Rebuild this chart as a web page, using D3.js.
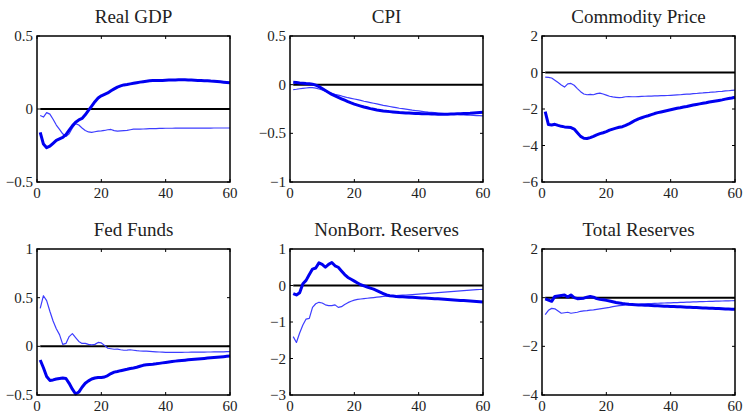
<!DOCTYPE html>
<html>
<head>
<meta charset="utf-8">
<script src="https://cdn.jsdelivr.net/npm/d3@7"></script>
<style>
  body { margin: 0; background: #fff; }
  text { font-family: "Liberation Serif", "Times New Roman", serif; fill: #222; }
</style>
</head>
<body>
<div id="chart"></div>
<script>
var w = 743;
var h = 414;

var titles = ["Real GDP", "CPI", "Commodity Price", "Fed Funds", "NonBorr. Reserves", "Total Reserves"];
var yDomains = [[-0.5, 0.5], [-1, 0.5], [-6, 2], [-0.5, 1], [-3, 1], [-4, 2]];
var yTicks = [[-0.5, 0, 0.5], [-1, -0.5, 0, 0.5], [-6, -4, -2, 0, 2], [-0.5, 0, 0.5, 1], [-3, -2, -1, 0, 1], [-4, -2, 0, 2]];
var xTicks = [0, 20, 40, 60];

// horizon 1..60
var gdpThick = [-0.16, -0.24, -0.265, -0.255, -0.235, -0.215, -0.205, -0.195, -0.175, -0.145,
  -0.115, -0.09, -0.075, -0.065, -0.04, -0.01, 0.02, 0.05, 0.075, 0.09,
  0.1, 0.11, 0.125, 0.138, 0.15, 0.158, 0.165, 0.168, 0.172, 0.176,
  0.18, 0.184, 0.187, 0.19, 0.193, 0.195, 0.196, 0.196, 0.196, 0.197,
  0.198, 0.198, 0.199, 0.2, 0.2, 0.2, 0.199, 0.198, 0.197, 0.196,
  0.195, 0.194, 0.193, 0.191, 0.19, 0.188, 0.186, 0.184, 0.182, 0.18];
var gdpThin = [-0.045, -0.055, -0.025, -0.035, -0.07, -0.11, -0.14, -0.17, -0.188, -0.17,
  -0.13, -0.1, -0.11, -0.13, -0.147, -0.157, -0.16, -0.156, -0.152, -0.15,
  -0.147, -0.142, -0.14, -0.148, -0.152, -0.15, -0.148, -0.146, -0.142, -0.138,
  -0.137, -0.138, -0.137, -0.136, -0.135, -0.134, -0.134, -0.133, -0.133, -0.132,
  -0.132, -0.132, -0.131, -0.131, -0.131, -0.131, -0.131, -0.131, -0.131, -0.131,
  -0.131, -0.131, -0.131, -0.131, -0.13, -0.13, -0.13, -0.13, -0.13, -0.13];

var cpiThick = [0.025, 0.022, 0.018, 0.015, 0.012, 0.01, 0.005, -0.005, -0.02, -0.04,
  -0.06, -0.08, -0.1, -0.115, -0.13, -0.145, -0.16, -0.175, -0.188, -0.2,
  -0.21, -0.22, -0.23, -0.238, -0.246, -0.253, -0.26, -0.265, -0.27, -0.274,
  -0.277, -0.28, -0.283, -0.286, -0.288, -0.29, -0.292, -0.294, -0.296, -0.297,
  -0.298, -0.299, -0.3, -0.301, -0.302, -0.303, -0.303, -0.303, -0.303, -0.302,
  -0.301, -0.3, -0.299, -0.297, -0.295, -0.293, -0.29, -0.288, -0.286, -0.284];
var cpiThin = [-0.05, -0.047, -0.042, -0.038, -0.034, -0.03, -0.03, -0.035, -0.045, -0.055,
  -0.068, -0.08, -0.09, -0.1, -0.108, -0.116, -0.125, -0.134, -0.14, -0.147,
  -0.154, -0.162, -0.17, -0.177, -0.184, -0.191, -0.198, -0.205, -0.212, -0.218,
  -0.224, -0.23, -0.236, -0.242, -0.247, -0.252, -0.257, -0.262, -0.266, -0.27,
  -0.274, -0.278, -0.282, -0.285, -0.288, -0.291, -0.294, -0.297, -0.3, -0.302,
  -0.304, -0.306, -0.308, -0.31, -0.312, -0.314, -0.316, -0.318, -0.319, -0.32];

var comThick = [-2.15, -2.85, -2.88, -2.84, -2.9, -2.95, -2.98, -3.0, -3.02, -3.1,
  -3.3, -3.5, -3.6, -3.62, -3.57, -3.5, -3.42, -3.35, -3.3, -3.24,
  -3.16, -3.1, -3.05, -3.0, -2.97, -2.9, -2.82, -2.72, -2.62, -2.54,
  -2.48, -2.42, -2.37, -2.31, -2.25, -2.2, -2.16, -2.12, -2.08, -2.04,
  -2.0, -1.96, -1.93, -1.89, -1.86, -1.82, -1.78, -1.75, -1.72, -1.69,
  -1.66, -1.62, -1.59, -1.56, -1.53, -1.5, -1.46, -1.43, -1.4, -1.36];
var comThin = [-0.25, -0.27, -0.3, -0.42, -0.55, -0.68, -0.8, -0.62, -0.6, -0.7,
  -0.88, -1.05, -1.18, -1.22, -1.2, -1.22, -1.16, -1.13, -1.18, -1.24,
  -1.3, -1.34, -1.36, -1.38, -1.36, -1.33, -1.32, -1.33, -1.33, -1.32,
  -1.31, -1.3, -1.29, -1.29, -1.28, -1.28, -1.27, -1.27, -1.26, -1.25,
  -1.24, -1.23, -1.22, -1.2, -1.19, -1.18, -1.16, -1.15, -1.13, -1.12,
  -1.1, -1.09, -1.07, -1.06, -1.04, -1.03, -1.01, -1.0, -0.98, -0.97];

var ffThick = [-0.14, -0.22, -0.31, -0.35, -0.345, -0.335, -0.33, -0.325, -0.33, -0.38,
  -0.44, -0.49, -0.47, -0.42, -0.38, -0.355, -0.335, -0.325, -0.32, -0.32,
  -0.315, -0.3, -0.28, -0.265, -0.258, -0.25, -0.243, -0.236, -0.228, -0.222,
  -0.215, -0.205, -0.195, -0.19, -0.187, -0.184, -0.18, -0.175, -0.17, -0.165,
  -0.16, -0.156, -0.152, -0.148, -0.145, -0.142, -0.139, -0.136, -0.133, -0.13,
  -0.127, -0.124, -0.121, -0.118, -0.115, -0.112, -0.109, -0.106, -0.103, -0.1];
var ffThin = [0.39, 0.52, 0.47, 0.36, 0.26, 0.18, 0.12, 0.02, 0.03, 0.1,
  0.13, 0.09, 0.05, 0.03, 0.03, 0.02, 0.015, 0.02, 0.04, 0.035,
  0.01, -0.02, -0.025, -0.03, -0.028, -0.035, -0.04, -0.038, -0.035, -0.04,
  -0.045, -0.048, -0.05, -0.05, -0.052, -0.054, -0.056, -0.058, -0.06, -0.062,
  -0.063, -0.063, -0.063, -0.062, -0.062, -0.061, -0.061, -0.06, -0.06, -0.06,
  -0.059, -0.059, -0.058, -0.058, -0.057, -0.057, -0.056, -0.056, -0.055, -0.055];

var nbrThick = [-0.22, -0.26, -0.2, 0.05, 0.14, 0.3, 0.45, 0.48, 0.62, 0.58,
  0.5, 0.58, 0.63, 0.54, 0.5, 0.4, 0.3, 0.22, 0.17, 0.12,
  0.07, 0.02, -0.01, -0.04, -0.07, -0.1, -0.14, -0.18, -0.22, -0.26,
  -0.28, -0.29, -0.3, -0.305, -0.31, -0.315, -0.32, -0.325, -0.33, -0.335,
  -0.34, -0.345, -0.35, -0.355, -0.36, -0.366, -0.372, -0.378, -0.384, -0.39,
  -0.396, -0.402, -0.408, -0.414, -0.42, -0.426, -0.432, -0.44, -0.447, -0.455];
var nbrThin = [-1.4, -1.56, -1.3, -1.08, -0.92, -0.9, -0.6, -0.5, -0.46, -0.48,
  -0.53, -0.55, -0.55, -0.53, -0.6, -0.58, -0.52, -0.47, -0.43, -0.4,
  -0.38, -0.37, -0.36, -0.35, -0.34, -0.33, -0.32, -0.31, -0.3, -0.29,
  -0.285, -0.28, -0.275, -0.27, -0.265, -0.26, -0.255, -0.25, -0.244, -0.238,
  -0.231, -0.224, -0.217, -0.21, -0.203, -0.196, -0.189, -0.182, -0.175, -0.168,
  -0.161, -0.154, -0.147, -0.14, -0.133, -0.127, -0.121, -0.115, -0.11, -0.105];

var trThick = [-0.05, -0.1, -0.15, 0.05, 0.07, 0.09, 0.11, 0.03, 0.11, 0.0,
  -0.04, -0.03, -0.02, 0.02, 0.05, 0.02, -0.04, -0.07, -0.09, -0.11,
  -0.14, -0.17, -0.2, -0.22, -0.24, -0.255, -0.27, -0.28, -0.29, -0.3,
  -0.305, -0.31, -0.315, -0.32, -0.33, -0.335, -0.34, -0.35, -0.355, -0.36,
  -0.366, -0.372, -0.378, -0.384, -0.39, -0.396, -0.402, -0.408, -0.414, -0.42,
  -0.426, -0.432, -0.438, -0.444, -0.45, -0.456, -0.462, -0.468, -0.474, -0.48];
var trThin = [-0.7, -0.52, -0.44, -0.46, -0.55, -0.64, -0.62, -0.6, -0.64, -0.62,
  -0.6, -0.56, -0.54, -0.53, -0.51, -0.5, -0.48, -0.46, -0.44, -0.42,
  -0.4, -0.37, -0.35, -0.33, -0.315, -0.3, -0.295, -0.29, -0.28, -0.27,
  -0.26, -0.25, -0.245, -0.24, -0.235, -0.23, -0.225, -0.22, -0.215, -0.21,
  -0.205, -0.2, -0.195, -0.19, -0.185, -0.18, -0.175, -0.17, -0.166, -0.162,
  -0.158, -0.154, -0.15, -0.146, -0.142, -0.138, -0.134, -0.13, -0.126, -0.122];

var thickSeries = [gdpThick, cpiThick, comThick, ffThick, nbrThick, trThick];
var thinSeries = [gdpThin, cpiThin, comThin, ffThin, nbrThin, trThin];

var lefts = [37, 290, 542];
var tops = [36, 249];
var pw = 193;
var ph = 146;
var tickLen = 3;

function fmt(d) {
  return String(d).replace("-", "\u2212");
}

var svg = d3.select("#chart").append("svg").attr("width", w).attr("height", h);

titles.forEach(function (title, i) {
  var px = lefts[i % 3];
  var py = tops[Math.floor(i / 3)];
  var horizon = d3.range(1, thickSeries[i].length + 1);

  var x = d3.scaleLinear().domain([0, 60]).range([0, pw]);
  var y = d3.scaleLinear().domain(yDomains[i]).range([ph, 0]);

  var g = svg.append("g").attr("transform", "translate(" + px + "," + py + ")");

  // zero line
  g.append("line")
    .attr("x1", x(d3.min(horizon)))
    .attr("x2", x(d3.max(horizon)))
    .attr("y1", y(0))
    .attr("y2", y(0))
    .attr("stroke", "#000")
    .attr("stroke-width", 2);

  var line = d3
    .line()
    .x(function (d, j) {
      return x(horizon[j]);
    })
    .y(function (d) {
      return y(d);
    })
    .curve(d3.curveLinear);

  g.append("path")
    .attr("d", line(thinSeries[i]))
    .attr("fill", "none")
    .attr("stroke", "#3d3dff")
    .attr("stroke-width", 1.2)
    .attr("stroke-linejoin", "round");

  g.append("path")
    .attr("d", line(thickSeries[i]))
    .attr("fill", "none")
    .attr("stroke", "#0000f0")
    .attr("stroke-width", 3)
    .attr("stroke-linejoin", "round");

  // box with inward ticks on all sides
  g.append("rect")
    .attr("x", 0)
    .attr("y", 0)
    .attr("width", pw)
    .attr("height", ph)
    .attr("fill", "none")
    .attr("stroke", "#000")
    .attr("stroke-width", 1.5);

  var ticksG = g.append("g").attr("stroke", "#000").attr("stroke-width", 1);
  xTicks.forEach(function (t) {
    ticksG.append("line").attr("x1", x(t)).attr("x2", x(t)).attr("y1", ph).attr("y2", ph - tickLen);
    ticksG.append("line").attr("x1", x(t)).attr("x2", x(t)).attr("y1", 0).attr("y2", tickLen);
  });
  yTicks[i].forEach(function (t) {
    ticksG.append("line").attr("x1", 0).attr("x2", tickLen).attr("y1", y(t)).attr("y2", y(t));
    ticksG.append("line").attr("x1", pw).attr("x2", pw - tickLen).attr("y1", y(t)).attr("y2", y(t));
  });

  g.selectAll(".xl")
    .data(xTicks)
    .enter()
    .append("text")
    .attr("x", function (d) {
      return x(d);
    })
    .attr("y", ph + 16)
    .attr("text-anchor", "middle")
    .attr("font-size", "15px")
    .text(fmt);

  g.selectAll(".yl")
    .data(yTicks[i])
    .enter()
    .append("text")
    .attr("x", -4)
    .attr("y", function (d) {
      return y(d) + 5;
    })
    .attr("text-anchor", "end")
    .attr("font-size", "15px")
    .text(fmt);

  g.append("text")
    .attr("x", pw / 2)
    .attr("y", -13)
    .attr("text-anchor", "middle")
    .attr("font-size", "19px")
    .text(title);
});
</script>
</body>
</html>
